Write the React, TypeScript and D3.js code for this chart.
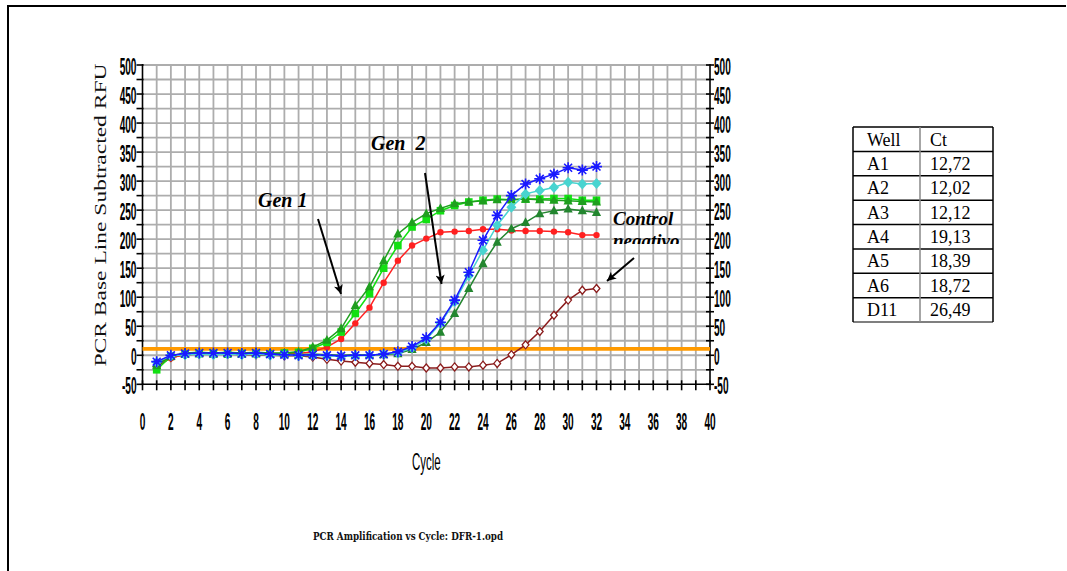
import React from 'react';
import * as d3 from 'd3';

// Cycle numbers and baseline-subtracted RFU per well
const cycles = d3.range(1, 33);

const wellA1 = [
  -14, -5, 2, 3, 2, 3, 2, 3, 2, 2,
  3, 6, 14, 28, 55, 82, 125, 163, 189, 201,
  212, 213, 214, 217, 217, 215, 214, 214, 213, 212,
  207, 207,
];
const wellA2 = [
  -18, -1, 4, 5, 4, 5, 4, 5, 4, 4,
  6, 14, 26, 46, 86, 118, 163, 209, 229, 244,
  253, 261, 264, 266, 268, 268, 269, 268, 267, 266,
  265, 264,
];
const wellA3 = [
  -25, -2, 2, 3, 3, 2, 3, 3, 2, 4,
  5, 12, 22, 40, 72, 106, 150, 189, 221, 234,
  249, 258, 264, 267, 269, 268, 269, 269, 270, 270,
  267, 267,
];
const wellA4 = [
  -11, 0, 3, 4, 4, 4, 3, 4, 2, 1,
  0, 1, 0, -1, 0, 0, 2, 6, 15, 30,
  57, 95, 143, 198, 241, 275, 295, 304, 312, 323,
  319, 325,
];
const wellA5 = [
  -12, -1, 1, 2, 1, 2, 1, 2, 0, 1,
  -1, 0, -1, -2, -1, 0, 2, 4, 13, 27,
  55, 92, 137, 181, 224, 255, 278, 284, 289, 298,
  295, 296,
];
const wellA6 = [
  -14, -2, 2, 3, 2, 3, 2, 3, 2, 2,
  1, 2, 1, 0, 1, 1, 1, 3, 10, 22,
  40, 72, 115, 158, 195, 218, 229, 244, 249, 252,
  249, 246,
];
const wellD11 = [
  -20, -4, 1, 2, 2, 2, 1, 1, 0, -1,
  -1, -3, -7, -10, -12, -14, -16, -19, -19, -22,
  -22, -20, -20, -17, -14, 1, 18, 41, 69, 95,
  112, 115,
];

const thresholdRFU = 11;

const tableWells = ['A1', 'A2', 'A3', 'A4', 'A5', 'A6', 'D11'];
const tableCt = ['12,72', '12,02', '12,12', '19,13', '18,39', '18,72', '26,49'];

const yTickLabels = d3.range(-50, 501, 50);
const xTickLabels = d3.range(0, 41, 2);

type Marker = 'circle' | 'square' | 'triangle' | 'asterisk' | 'diamond' | 'openDiamond';

const series: { values: number[]; color: string; marker: Marker }[] = [
  { values: wellD11, color: '#8b1c1c', marker: 'openDiamond' },
  { values: wellA1, color: '#ff2020', marker: 'circle' },
  { values: wellA3, color: '#12e012', marker: 'square' },
  { values: wellA2, color: '#1f9f1f', marker: 'triangle' },
  { values: wellA6, color: '#23862f', marker: 'triangle' },
  { values: wellA5, color: '#48d4d0', marker: 'diamond' },
  { values: wellA4, color: '#1a1aff', marker: 'asterisk' },
];

const x = d3.scaleLinear().domain([0, 40]).range([142.5, 710]);
const y = d3.scaleLinear().domain([-50, 500]).range([384.3, 65]);

const condensed = "'Liberation Sans', Arial, sans-serif";

function MarkerShape({ kind, color, cx, cy }: { kind: Marker; color: string; cx: number; cy: number }) {
  const t = `translate(${cx},${cy})`;
  switch (kind) {
    case 'circle':
      return <circle cx={cx} cy={cy} r={3.2} fill={color} />;
    case 'square':
      return <rect x={cx - 3.8} y={cy - 3.8} width={7.6} height={7.6} fill={color} />;
    case 'triangle':
      return <path transform={t} d="M0,-5.2L4.6,3.6L-4.6,3.6Z" fill={color} />;
    case 'diamond':
      return <path transform={t} d="M0,-5.5L5,0L0,5.5L-5,0Z" fill={color} />;
    case 'openDiamond':
      return <path transform={t} d="M0,-4L3.4,0L0,4L-3.4,0Z" fill="#fff" stroke={color} strokeWidth={1.3} />;
    case 'asterisk': {
      const s = 5.5;
      const k = s * 0.72;
      return (
        <g transform={t}>
          <path
            d={`M${-s},0L${s},0M0,${-s}L0,${s}M${-k},${-k}L${k},${k}M${-k},${k}L${k},${-k}`}
            stroke={color}
            strokeWidth={1.6}
          />
          <circle r={2.4} fill={color} />
        </g>
      );
    }
  }
  return null;
}

export default function App() {
  const line = d3
    .line<number>()
    .x((_, i) => x(cycles[i]))
    .y((v) => y(v));

  const xMinor = d3.range(0, 41, 1);
  const yMinor = d3.range(-50, 501, 25);

  const tableX0 = 853;
  const tableX1 = 993;
  const tableMid = 920;
  const tableY0 = 127;
  const rowH = (322 - 127) / 8;
  const rows = [['Well', 'Ct'], ...tableWells.map((w, i) => [w, tableCt[i]])];

  return (
    <svg
      width={1067}
      height={571}
      style={{ position: 'absolute', left: 0, top: 0, background: '#fff' }}
    >
      <defs>
        <marker id="arrowHead" viewBox="0 0 10 10" refX={10} refY={5} markerWidth={11} markerHeight={9} markerUnits="userSpaceOnUse" orient="auto">
          <path d="M0,0L10,5L0,10L2.5,5Z" fill="#000" />
        </marker>
        <clipPath id="labelClip">
          <rect x={600} y={200} width={100} height={44} />
        </clipPath>
      </defs>

      {/* page frame */}
      <line x1={8} y1={6} x2={1066} y2={6} stroke="#000" strokeWidth={2} />
      <line x1={8} y1={5} x2={8} y2={571} stroke="#000" strokeWidth={2} />

      {/* grid */}
      <g stroke="#adadad" strokeWidth={1.8}>
        {xMinor.slice(1, -1).map((c) => (
          <line key={`gx${c}`} x1={x(c)} x2={x(c)} y1={y(500)} y2={y(-50)} />
        ))}
        {yMinor.slice(1).map((v) => (
          <line key={`gy${v}`} x1={x(0)} x2={x(40)} y1={y(v)} y2={y(v)} />
        ))}
      </g>

      {/* axes */}
      <g stroke="#000" strokeWidth={1.6}>
        <line x1={x(0)} x2={x(0)} y1={y(500) - 1} y2={y(-50)} />
        <line x1={x(40)} x2={x(40)} y1={y(500) - 1} y2={y(-50)} />
        <line x1={x(0)} x2={x(40)} y1={y(-50)} y2={y(-50)} />
        {yMinor.map((v) => (
          <line key={`tl${v}`} x1={x(0) - 6} x2={x(0) + 1} y1={y(v)} y2={y(v)} />
        ))}
        {yMinor.map((v) => (
          <line key={`tr${v}`} x1={x(40) - 4} x2={x(40) + 4} y1={y(v)} y2={y(v)} />
        ))}
        {xMinor.map((c) => (
          <line key={`tx${c}`} x1={x(c)} x2={x(c)} y1={y(-50) - 4} y2={y(-50) + 6} />
        ))}
      </g>

      {/* tick labels */}
      <g fontFamily={condensed} fontSize={23} fill="#000" fontWeight="bold">
        {yTickLabels.map((v) => (
          <text key={`yl${v}`} transform={`translate(${x(0) - 6},${y(v) + 10}) scale(0.44,1)`} textAnchor="end">
            {v}
          </text>
        ))}
        {yTickLabels.map((v) => (
          <text key={`yr${v}`} transform={`translate(${x(40) + 4},${y(v) + 10}) scale(0.44,1)`} textAnchor="start">
            {v}
          </text>
        ))}
        {xTickLabels.map((c) => (
          <text key={`xl${c}`} transform={`translate(${x(c)},${y(-50) + 46}) scale(0.44,1)`} textAnchor="middle">
            {c}
          </text>
        ))}
      </g>
      <text
        transform={`translate(${(x(0) + x(40)) / 2},${y(-50) + 86}) scale(0.5,1)`}
        textAnchor="middle"
        fontFamily={condensed}
        fontSize={23}
        fill="#000"
      >
        Cycle
      </text>

      {/* y-axis title */}
      <text
        transform="translate(106,215) rotate(-90)"
        textAnchor="middle"
        fontFamily="'Liberation Serif', 'Times New Roman', serif"
        fontSize={17}
        textLength={303}
        lengthAdjust="spacingAndGlyphs"
        fill="#111"
      >
        PCR Base Line Subtracted RFU
      </text>

      {/* threshold */}
      <line x1={x(0)} x2={x(40)} y1={y(thresholdRFU)} y2={y(thresholdRFU)} stroke="#ff9a00" strokeWidth={3.8} />

      {/* amplification curves */}
      {series.map((s, si) => (
        <g key={`s${si}`}>
          <path d={line(s.values) ?? ''} fill="none" stroke={s.color} strokeWidth={1.5} />
          {s.values.map((v, i) => (
            <MarkerShape key={i} kind={s.marker} color={s.color} cx={x(cycles[i])} cy={y(v)} />
          ))}
        </g>
      ))}

      {/* annotations */}
      <g fontFamily="'Liberation Serif', 'Times New Roman', serif" fontWeight="bold" fontStyle="italic" fill="#000">
        <text x={258} y={207} fontSize={20}>Gen 1</text>
        <text x={371} y={150} fontSize={20} style={{ whiteSpace: 'pre' }}>{'Gen  2'}</text>
        <text x={613} y={225} fontSize={19}>Control</text>
        <text x={613} y={247} fontSize={19} clipPath="url(#labelClip)">negativo</text>
      </g>
      <g stroke="#000" strokeWidth={2}>
        <line x1={318} y1={219} x2={341} y2={294} markerEnd="url(#arrowHead)" />
        <line x1={425} y1={173} x2={441.5} y2={284} markerEnd="url(#arrowHead)" />
        <line x1={634} y1={258} x2={607} y2={281} markerEnd="url(#arrowHead)" />
      </g>

      {/* footer caption */}
      <text
        x={408}
        y={540}
        textAnchor="middle"
        fontFamily="'DejaVu Serif', serif"
        fontWeight="bold"
        fontSize={10.5}
        textLength={190}
        lengthAdjust="spacingAndGlyphs"
        fill="#111"
      >
        PCR Amplification vs Cycle: DFR-1.opd
      </text>

      {/* Ct table */}
      <g>
        {rows.map((r, i) => (
          <g key={`row${i}`} fontFamily="'Liberation Serif', 'Times New Roman', serif" fontSize={18} fill="#000">
            <text x={tableX0 + 14} y={tableY0 + rowH * i + 18.5}>{r[0]}</text>
            <text x={tableMid + 10} y={tableY0 + rowH * i + 18.5}>{r[1]}</text>
          </g>
        ))}
        {d3.range(0, 9).map((i) => (
          <line
            key={`hl${i}`}
            x1={tableX0}
            x2={tableX1}
            y1={tableY0 + rowH * i}
            y2={tableY0 + rowH * i}
            stroke={i === 8 ? '#555' : '#000'}
            strokeWidth={1.5}
          />
        ))}
        <line x1={tableX0} x2={tableX0} y1={tableY0} y2={tableY0 + rowH * 8} stroke="#000" strokeWidth={1.5} />
        <line x1={tableX1} x2={tableX1} y1={tableY0} y2={tableY0 + rowH * 8} stroke="#000" strokeWidth={1.5} />
        <line x1={tableMid} x2={tableMid} y1={tableY0} y2={tableY0 + rowH * 8} stroke="#888" strokeWidth={1.5} />
      </g>
    </svg>
  );
}
